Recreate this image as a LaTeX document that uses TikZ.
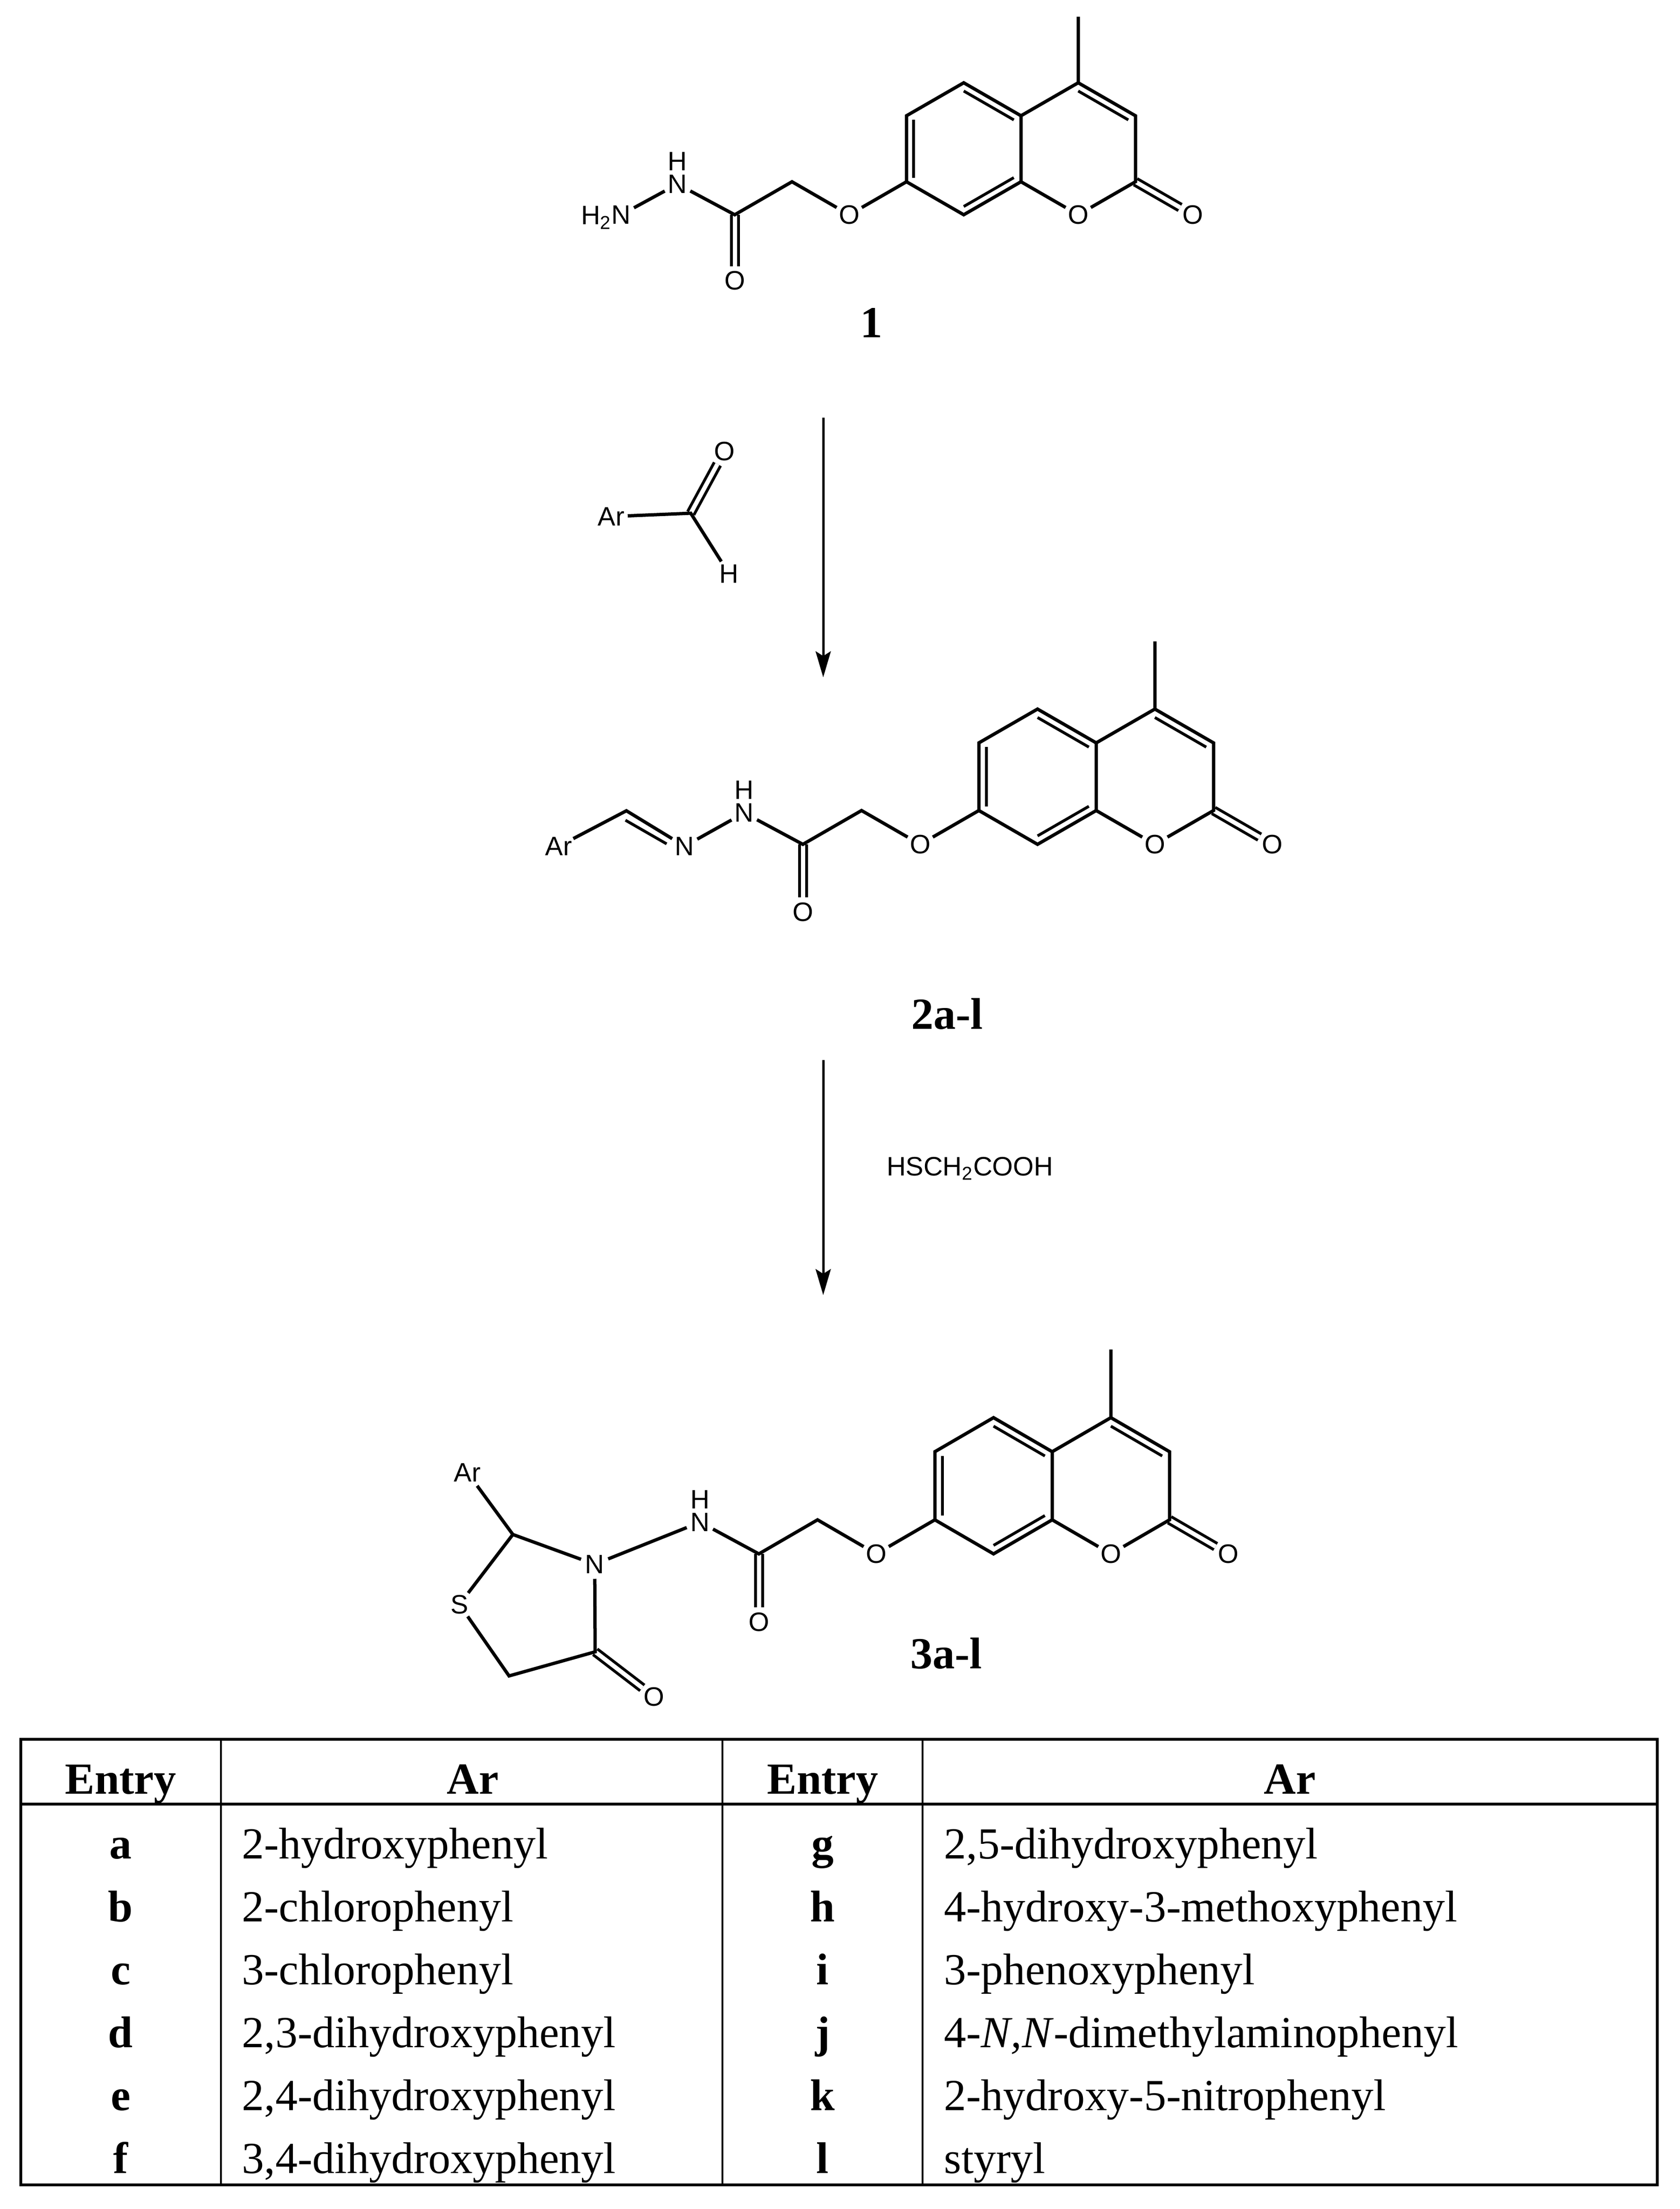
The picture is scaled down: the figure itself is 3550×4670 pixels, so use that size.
\documentclass[tikz,border=0pt]{standalone}
\usepackage{fontspec}
\setmainfont{Liberation Serif}
\setsansfont{Liberation Sans}
\usetikzlibrary{arrows.meta,calc}

\tikzset{
  bond/.style={line width=.07cm},
  inbond/.style={line width=.06cm},
  dblbond/.style={line width=.06cm,double,double distance=.09cm},
  atom/.style={circle,inner sep=0pt,minimum size=.6cm,font=\sffamily\fontsize{16}{18}\selectfont},
  reagent/.style={inner sep=0pt,font=\sffamily\fontsize{16}{18}\selectfont},
  cmpd/.style={anchor=base,inner sep=0pt,font=\bfseries\fontsize{26.7}{30}\selectfont},
  cell/.style={anchor=base west,inner sep=0pt,font=\fontsize{26.7}{30}\selectfont},
  tabline/.style={line width=.06cm},
  tabrule/.style={line width=.04cm},
  rxnarrow/.style={line width=.05cm,-{Stealth[length=.55cm,width=.32cm,inset=.1cm]}}
}

\begin{document}
\begin{tikzpicture}[x=.01cm,y=-.01cm]
\useasboundingbox (0,0) rectangle (3550,4670);
\foreach \mol/\ox/\oy/\dx/\dy in {a/2279/454/121/69.75,b/2441/1785/124/71.5,c/2348/3285/124/72} {
  \coordinate (\mol-ca) at ({\ox-2*\dx},{\oy-2*\dy});
  \coordinate (\mol-cb) at (\ox,{\oy-2*\dy});
  \coordinate (\mol-me) at (\ox,{\oy-6*\dy});
  \coordinate (\mol-c4) at (\ox,{\oy-4*\dy});
  \coordinate (\mol-c3) at ({\ox+\dx},{\oy-3*\dy});
  \coordinate (\mol-c2) at ({\ox+\dx},{\oy-\dy});
  \coordinate (\mol-c8a) at ({\ox-\dx},{\oy-\dy});
  \coordinate (\mol-c4a) at ({\ox-\dx},{\oy-3*\dy});
  \coordinate (\mol-c5) at ({\ox-2*\dx},{\oy-4*\dy});
  \coordinate (\mol-c6) at ({\ox-3*\dx},{\oy-3*\dy});
  \coordinate (\mol-c7) at ({\ox-3*\dx},{\oy-\dy});
  \coordinate (\mol-c8) at ({\ox-2*\dx},\oy);
  \coordinate (\mol-ch2) at ({\ox-5*\dx},{\oy-\dy});
  \coordinate (\mol-cam) at ({\ox-6*\dx},\oy);
  \node[atom] (\mol-o1) at (\ox,\oy) {O};
  \node[atom] (\mol-ox) at ({\ox+2*\dx},\oy) {O};
  \node[atom] (\mol-oe) at ({\ox-4*\dx},\oy) {O};
  \node[atom] (\mol-oam) at ({\ox-6*\dx},{\oy+2*\dy}) {O};
  \node[atom] (\mol-n) at ({\ox-7*\dx},{\oy-\dy+5}) {N};
  \node[atom] (\mol-h) at ({\ox-7*\dx},{\oy-\dy-43}) {H};
  \draw[dblbond] (\mol-c2) -- (\mol-ox);
  \draw[dblbond] (\mol-cam) -- (\mol-oam);
  \draw[bond] (\mol-me) -- (\mol-c4) -- (\mol-c3) -- (\mol-c2) -- (\mol-o1) -- (\mol-c8a) -- (\mol-c4a) -- (\mol-c4);
  \draw[bond] (\mol-c4a) -- (\mol-c5) -- (\mol-c6) -- (\mol-c7) -- (\mol-c8) -- (\mol-c8a);
  \draw[bond] (\mol-c7) -- (\mol-oe) -- (\mol-ch2) -- (\mol-cam) -- (\mol-n);
  \draw[inbond] ($(\mol-c6)!.125!(\mol-ca)$) -- ($(\mol-c7)!.125!(\mol-ca)$);
  \draw[inbond] ($(\mol-c5)!.125!(\mol-ca)$) -- ($(\mol-c4a)!.125!(\mol-ca)$);
  \draw[inbond] ($(\mol-c8)!.125!(\mol-ca)$) -- ($(\mol-c8a)!.125!(\mol-ca)$);
  \draw[inbond] ($(\mol-c4)!.125!(\mol-cb)$) -- ($(\mol-c3)!.125!(\mol-cb)$);
}

\node[atom] (a-nh2) at (1313,454) {N};
\node[reagent,anchor=base east] (a-h2) at (1293,475) {H\textsubscript{2}};
\draw[bond] (a-nh2) -- (a-n);
\node[cmpd] (cmpd1) at (1842,713) {1};

\node[atom] (ald-ar) at (1292,1092) {Ar};
\coordinate (ald-c) at (1460,1085);
\node[atom] (ald-o) at (1531,954) {O};
\node[atom] (ald-h) at (1541,1213) {H};
\draw[dblbond] (ald-c) -- (ald-o);
\draw[bond] (ald-ar) -- (ald-c) -- (ald-h);
\coordinate (arrow1a) at (1740,883);
\coordinate (arrow1b) at (1740,1432);
\draw[rxnarrow] (arrow1a) -- (arrow1b);

\node[atom] (b-ar) at (1181,1789) {Ar};
\coordinate (b-ch) at (1324,1714);
\node[atom] (b-nim) at (1447,1789) {N};
\draw[bond] (b-ar) -- (b-ch) -- (b-nim) -- (b-n);
\draw[inbond] ($(b-ch)+(-2,20)$) -- ($(b-nim)+(-38,-5)$);
\node[cmpd] (cmpd2) at (2002,2175) {2a-l};

\coordinate (arrow2a) at (1740,2241);
\coordinate (arrow2b) at (1740,2738);
\draw[rxnarrow] (arrow2a) -- (arrow2b);
\node[reagent] (thiol) at (2050,2470) {HSCH\textsubscript{2}COOH};

\node[atom] (c-nr) at (1257,3307) {N};
\coordinate (c-c2) at (1084,3244);
\node[atom] (c-ar) at (988,3113) {Ar};
\node[atom] (c-s) at (971,3392) {S};
\coordinate (c-ch2r) at (1076,3543);
\coordinate (c-co) at (1258,3492);
\node[atom] (c-or) at (1382,3587) {O};
\draw[dblbond] (c-co) -- (c-or);
\draw[bond] (c-ar) -- (c-c2) -- (c-nr) -- (c-co) -- (c-ch2r) -- (c-s) -- (c-c2);
\draw[bond] (c-nr) -- (c-n);
\node[cmpd] (cmpd3) at (2000,3527) {3a-l};

\draw[tabline] (44,3677) rectangle (3503,4619);
\draw[tabline] (44,3814) -- (3503,3814);
\draw[tabrule] (467,3677) -- (467,4619);
\draw[tabrule] (1527,3677) -- (1527,4619);
\draw[tabrule] (1950,3677) -- (1950,4619);
\node[cmpd] (head1) at (255,3792) {Entry};
\node[cmpd] (head2) at (999,3792) {Ar};
\node[cmpd] (head3) at (1739,3792) {Entry};
\node[cmpd] (head4) at (2726,3792) {Ar};
\foreach \ya/\la/\ara/\lb/\arb in {
  3929/a/{2-hydroxyphenyl}/g/{2,5-dihydroxyphenyl},
  4062/b/{2-chlorophenyl}/h/{4-hydroxy-3-methoxyphenyl},
  4195/c/{3-chlorophenyl}/i/{3-phenoxyphenyl},
  4328/d/{2,3-dihydroxyphenyl}/j/{4-\textit{N,N}-dimethylaminophenyl},
  4461/e/{2,4-dihydroxyphenyl}/k/{2-hydroxy-5-nitrophenyl},
  4594/f/{3,4-dihydroxyphenyl}/l/{styryl}} {
  \node[cmpd] (entry-\la) at (255,\ya) {\la};
  \node[cell] (ar-\la) at (511,\ya) {\ara};
  \node[cmpd] (entry-\lb) at (1739,\ya) {\lb};
  \node[cell] (ar-\lb) at (1995,\ya) {\arb};
}
\end{tikzpicture}
\end{document}
